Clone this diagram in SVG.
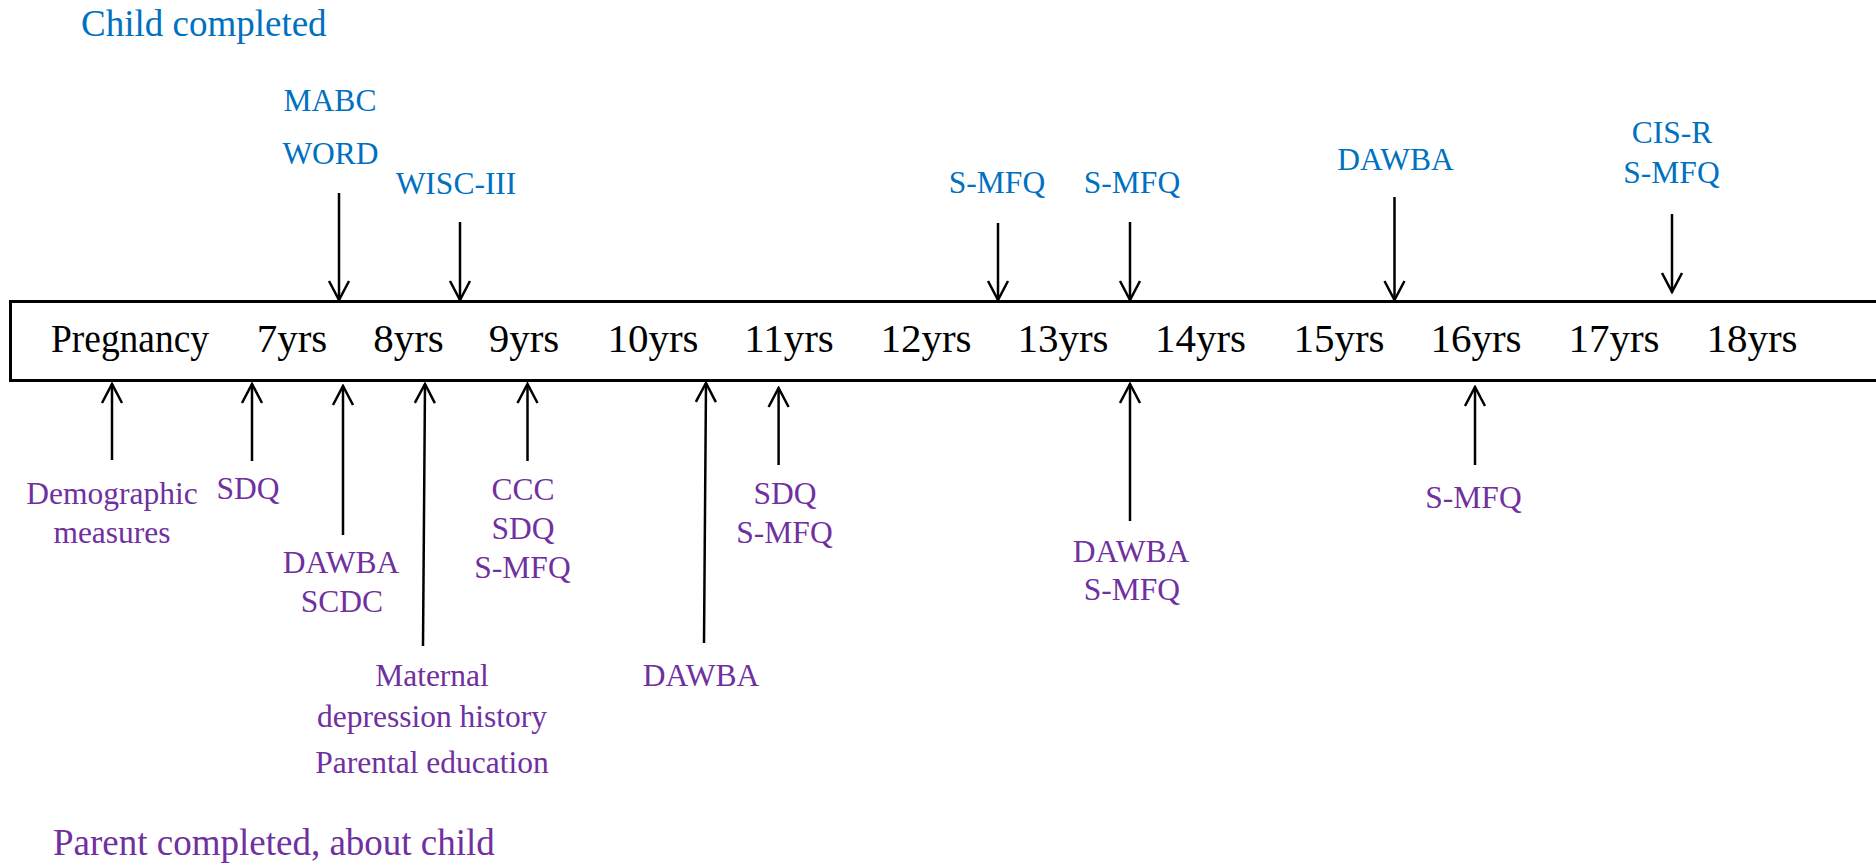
<svg xmlns="http://www.w3.org/2000/svg" width="1876" height="866" viewBox="0 0 1876 866">
<style>
text{font-family:"Liberation Serif","Times New Roman",serif}
.yr{font-size:41px;fill:#000;text-anchor:middle}
.c{font-size:31.5px;fill:#0070C0;text-anchor:middle}
.p{font-size:31.5px;fill:#7030A0;text-anchor:middle}
.h1{font-size:37px;fill:#0070C0}
.h2{font-size:37px;fill:#7030A0}
.ar{stroke:#000;stroke-width:2.5;fill:none;marker-end:url(#ah)}
</style>
<defs>
<marker id="ah" markerUnits="userSpaceOnUse" markerWidth="24" markerHeight="24" viewBox="-22 -12 24 24" refX="0" refY="0" orient="auto">
<path d="M-19,-10 L0,0 L-19,10" fill="none" stroke="#000" stroke-width="2.5"/>
</marker>
</defs>
<rect width="1876" height="866" fill="#fff"/>
<g id="timeline">
<rect x="10.5" y="301.5" width="1900" height="79" fill="none" stroke="#000" stroke-width="3"/>
<text class="yr" x="130" y="352" textLength="158" lengthAdjust="spacingAndGlyphs">Pregnancy</text>
<text class="yr" x="292" y="352">7yrs</text>
<text class="yr" x="408.5" y="352">8yrs</text>
<text class="yr" x="524" y="352">9yrs</text>
<text class="yr" x="653" y="352">10yrs</text>
<text class="yr" x="789" y="352">11yrs</text>
<text class="yr" x="926" y="352">12yrs</text>
<text class="yr" x="1063" y="352">13yrs</text>
<text class="yr" x="1200.5" y="352">14yrs</text>
<text class="yr" x="1339" y="352">15yrs</text>
<text class="yr" x="1476" y="352">16yrs</text>
<text class="yr" x="1614" y="352">17yrs</text>
<text class="yr" x="1752" y="352">18yrs</text>
</g>
<g id="headings">
<text class="h1" x="81" y="36">Child completed</text>
<text class="h2" x="53" y="855">Parent completed, about child</text>
</g>
<g id="child-7">
<text class="c" x="330" y="111">MABC</text>
<text class="c" x="330.5" y="164">WORD</text>
</g>
<g id="child-8"><text class="c" x="456" y="194">WISC-III</text></g>
<g id="child-13a"><text class="c" x="997" y="193">S-MFQ</text></g>
<g id="child-13b"><text class="c" x="1132" y="193">S-MFQ</text></g>
<g id="child-15"><text class="c" x="1395.5" y="170">DAWBA</text></g>
<g id="child-17">
<text class="c" x="1672" y="143">CIS-R</text>
<text class="c" x="1671.5" y="183">S-MFQ</text>
</g>
<g id="parent-preg">
<text class="p" x="112" y="504">Demographic</text>
<text class="p" x="112" y="543">measures</text>
</g>
<g id="parent-7"><text class="p" x="248" y="499">SDQ</text></g>
<g id="parent-7b">
<text class="p" x="341" y="573">DAWBA</text>
<text class="p" x="342" y="612">SCDC</text>
</g>
<g id="parent-8">
<text class="p" x="432" y="686">Maternal</text>
<text class="p" x="432" y="727">depression history</text>
<text class="p" x="432" y="773">Parental education</text>
</g>
<g id="parent-9">
<text class="p" x="523" y="500">CCC</text>
<text class="p" x="523" y="539">SDQ</text>
<text class="p" x="522.5" y="578">S-MFQ</text>
</g>
<g id="parent-10"><text class="p" x="701" y="686">DAWBA</text></g>
<g id="parent-11">
<text class="p" x="785" y="504">SDQ</text>
<text class="p" x="784.5" y="543">S-MFQ</text>
</g>
<g id="parent-13">
<text class="p" x="1131" y="562">DAWBA</text>
<text class="p" x="1131.8" y="600">S-MFQ</text>
</g>
<g id="parent-16"><text class="p" x="1473.5" y="508">S-MFQ</text></g>
<g id="connectors">
<path class="ar" d="M339,193 V300"/>
<path class="ar" d="M460,222 V300"/>
<path class="ar" d="M998,223 V300"/>
<path class="ar" d="M1130,222 V300"/>
<path class="ar" d="M1394.5,197 V300"/>
<path class="ar" d="M1672,214 V292"/>
<path class="ar" d="M112,460 V384"/>
<path class="ar" d="M252,461 V384"/>
<path class="ar" d="M343,535 V386"/>
<path class="ar" d="M423,646 L425,384"/>
<path class="ar" d="M527.5,461 V384"/>
<path class="ar" d="M704,643 L706,383"/>
<path class="ar" d="M778.6,465 V388"/>
<path class="ar" d="M1130,521 V384"/>
<path class="ar" d="M1475,465 V387"/>
</g>
</svg>
